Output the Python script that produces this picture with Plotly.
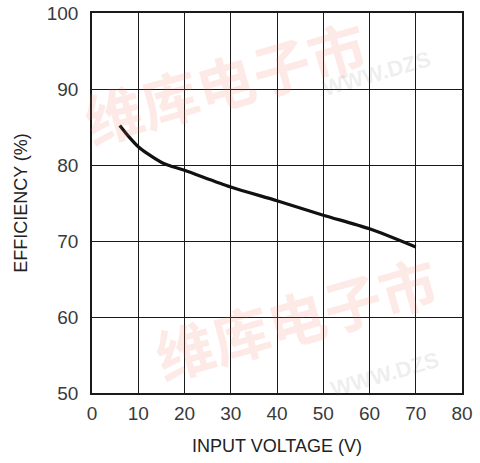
import plotly.graph_objects as go

# Efficiency vs. input voltage
input_voltage = [6, 8, 10, 12, 15.5, 20, 30, 40, 50, 60, 70]
efficiency = [85.2, 83.7, 82.4, 81.5, 80.2, 79.3, 77.1, 75.3, 73.4, 71.6, 69.2]

x_ticks = [0, 10, 20, 30, 40, 50, 60, 70, 80]
y_ticks = [50, 60, 70, 80, 90, 100]

fig = go.Figure()

fig.add_trace(go.Scatter(
    x=input_voltage,
    y=efficiency,
    mode="lines",
    line=dict(color="#111111", width=3.2, shape="spline", smoothing=0.8),
    showlegend=False,
    hoverinfo="skip",
))

axis_common = dict(
    showgrid=True,
    gridcolor="#1a1a1a",
    gridwidth=1.2,
    showline=True,
    linecolor="#1a1a1a",
    linewidth=1.6,
    mirror=True,
    ticks="",
    zeroline=False,
    tickfont=dict(family="Liberation Sans, Arial, sans-serif", size=19, color="#3a3a3a"),
    title_font=dict(family="Liberation Sans, Arial, sans-serif", size=18, color="#222222"),
)

fig.update_xaxes(
    range=[0, 80],
    tickvals=x_ticks,
    ticktext=[str(v) for v in x_ticks],
    title_text="INPUT VOLTAGE (V)",
    title_standoff=17,
    ticklabelstandoff=2,
    **axis_common,
)
fig.update_yaxes(
    range=[50, 100],
    tickvals=y_ticks,
    ticktext=[str(v) for v in y_ticks],
    title_text="EFFICIENCY (%)",
    title_standoff=14,
    ticklabelstandoff=8,
    **axis_common,
)

# faint site watermark, kept inside the page
wm_font = "Noto Sans CJK SC"
for (wx, wy) in [(0.36, 0.82), (0.55, 0.20)]:
    fig.add_annotation(
        xref="paper", yref="paper", x=wx, y=wy, xanchor="center", yanchor="middle",
        text="<b>维库电子市</b>", showarrow=False, textangle=-16,
        font=dict(family=wm_font, size=58, color="rgba(240,110,90,0.15)"),
    )
for (wx, wy) in [(0.77, 0.84), (0.79, 0.05)]:
    fig.add_annotation(
        xref="paper", yref="paper", x=wx, y=wy, xanchor="center", yanchor="middle",
        text="<b>WWW.DZS</b>", showarrow=False, textangle=-16,
        font=dict(family="Liberation Sans", size=22, color="rgba(120,120,120,0.13)"),
    )

fig.update_layout(
    width=480,
    height=463,
    margin=dict(l=92, r=18, t=13, b=70, autoexpand=False),
    plot_bgcolor="rgba(0,0,0,0)",
    paper_bgcolor="white",
)

fig.write_html("out.html")
